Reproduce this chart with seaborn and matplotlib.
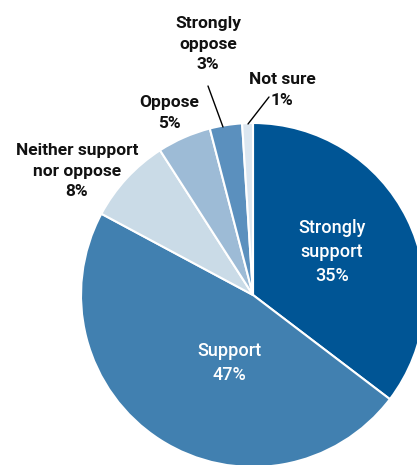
#import libraries
import matplotlib
matplotlib.use('Agg')
import matplotlib.pyplot as plt
import seaborn as sns

#data
categories = ['Strongly support', 'Support', 'Neither support nor oppose',
              'Oppose', 'Strongly oppose', 'Not sure']
shares = [35, 47, 8, 5, 3, 1]
colors = ['#005595', '#4180b0', '#cadbe7', '#9dbbd6', '#5b90be', '#dbe6f0']

sns.set_style('white')
plt.rcParams['font.family'] = ['Roboto', 'DejaVu Sans']

#figure in pixel units
W, H = 417, 465
fig = plt.figure(figsize=(W / 100, H / 100), dpi=100)
ax = fig.add_axes([0, 0, 1, 1])

cx, cy, r = 253, H - 295, 172
ax.pie(shares, colors=colors, startangle=90, counterclock=False,
       center=(cx, cy), radius=r, frame=True,
       wedgeprops=dict(edgecolor='white', linewidth=1.5))
ax.set_xlim(0, W)
ax.set_ylim(0, H)
ax.set_aspect('equal')
ax.axis('off')

#labels inside
inside = dict(ha='center', va='center', color='white', fontsize=13,
              fontweight='medium', linespacing=1.42)
ax.text(332, H - 252, 'Strongly\nsupport\n%d%%' % shares[0], **inside)
ax.text(229, H - 363, 'Support\n%d%%' % shares[1], **inside)

#labels outside
outside = dict(ha='center', va='center', color='#111111', fontsize=12.5,
               fontweight='bold', linespacing=1.42)
ax.text(77, H - 171, 'Neither support\nnor oppose\n%d%%' % shares[2], **outside)
ax.text(169, H - 113, 'Oppose\n%d%%' % shares[3], **outside)
ax.text(208, H - 44, 'Strongly\noppose\n%d%%' % shares[4], **outside)
ax.text(282, H - 90, 'Not sure\n%d%%' % shares[5], **outside)

#leader lines
ax.plot([208, 223], [H - 86, H - 127], color='black', lw=1)
ax.plot([269, 248], [H - 97, H - 124], color='black', lw=1)

fig.savefig('out.png', dpi=100)
